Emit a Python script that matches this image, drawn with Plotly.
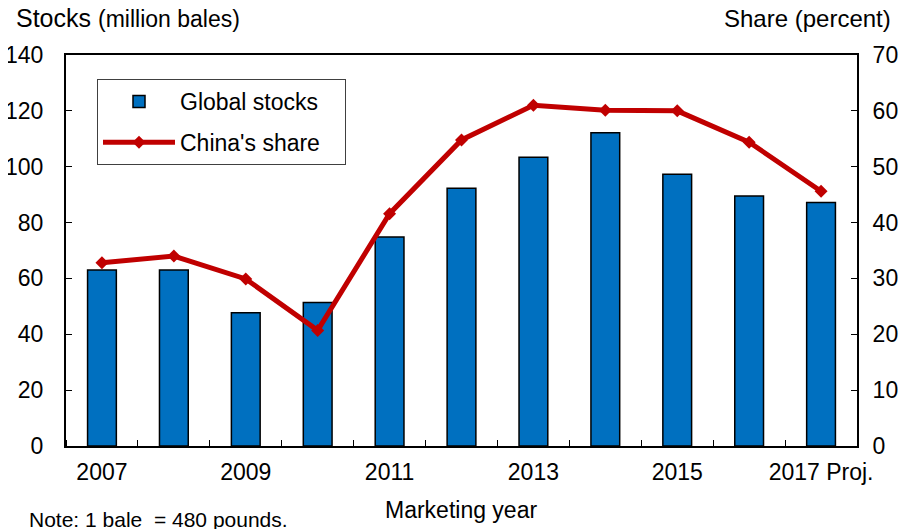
import plotly.graph_objects as go

years = [2007, 2008, 2009, 2010, 2011, 2012, 2013, 2014, 2015, 2016, 2017]
global_stocks = [63, 63, 47.7, 51.4, 74.8, 92.3, 103.4, 112.2, 97.3, 89.5, 87.2]
china_share = [32.8, 34.0, 29.9, 20.7, 41.6, 54.8, 61.0, 60.1, 60.0, 54.4, 45.6]
tick_years = [2007, 2009, 2011, 2013, 2015, 2017]
tick_labels = ["2007", "2009", "2011", "2013", "2015", "2017 Proj."]

FONT = "Liberation Sans, Arial, sans-serif"
BLUE = "#0070C0"
RED = "#C00000"

# the page body has an 8px margin, so the figure is drawn from (8, 8)
OFF = 8
W, H = 909 - OFF, 529 - OFF
L, R, T, B = 66 - OFF, 52, 55 - OFF, 83
PH = H - T - B
PW = W - L - R


def px(x):
    return (x - OFF - L) / PW


def py(y):
    return (H - B - (y - OFF)) / PH


fig = go.Figure()
fig.add_trace(go.Bar(
    x=years, y=global_stocks, name="Global stocks\u00a0\u00a0\u00a0", width=0.4,
    legendgroup="a",
    marker=dict(color=BLUE, line=dict(color="black", width=1.5)),
))
fig.add_trace(go.Scatter(
    x=years, y=china_share, name="China's share\u00a0\u00a0\u00a0", yaxis="y2",
    legendgroup="b", mode="lines+markers",
    line=dict(color=RED, width=5),
    marker=dict(symbol="diamond", size=10, color=RED),
))

axis_common = dict(
    showline=True, linecolor="black", linewidth=2, showgrid=False,
    zeroline=False, automargin=False, tickfont=dict(size=23),
)

fig.update_layout(
    width=W, height=H,
    margin=dict(l=L, r=R, t=T, b=B, autoexpand=False),
    paper_bgcolor="white", plot_bgcolor="white",
    font=dict(family=FONT, color="black", size=23),
    showlegend=True,
    legend=dict(
        x=px(97), y=py(79), xanchor="left", yanchor="top",
        bordercolor="#404040", borderwidth=1, bgcolor="white",
        font=dict(size=23), itemwidth=72, tracegroupgap=8,
    ),
    xaxis=dict(
        range=[2006.5, 2017.5], tickvals=tick_years, ticktext=tick_labels,
        ticks="", mirror=True, ticklabelstandoff=4,
        minor=dict(ticks="inside", ticklen=6, tickcolor="black", tick0=2006.5, dtick=1, showgrid=False),
        **axis_common,
    ),
    yaxis=dict(
        range=[0, 140], dtick=20, ticks="inside", ticklen=6, tickcolor="black",
        ticklabelstandoff=16, **axis_common,
    ),
    yaxis2=dict(
        range=[0, 70], dtick=10, overlaying="y", side="right",
        ticks="inside", ticklen=6, tickcolor="black",
        ticklabelstandoff=9, **axis_common,
    ),
    annotations=[
        dict(text="Stocks <span style='font-size:23px'>(million bales)</span>",
             xref="paper", yref="paper", x=px(14), y=py(18),
             xanchor="left", yanchor="middle", showarrow=False, font=dict(size=25)),
        dict(text="Share (percent)",
             xref="paper", yref="paper", x=px(893), y=py(18),
             xanchor="right", yanchor="middle", showarrow=False, font=dict(size=24)),
        dict(text="Marketing year",
             xref="paper", yref="paper", x=px(461), y=py(510),
             xanchor="center", yanchor="middle", showarrow=False, font=dict(size=23)),
        dict(text="Note: 1 bale  = 480 pounds.",
             xref="paper", yref="paper", x=px(27), y=py(520),
             xanchor="left", yanchor="middle", showarrow=False, font=dict(size=21)),
    ],
)

fig.write_html("out.html")
